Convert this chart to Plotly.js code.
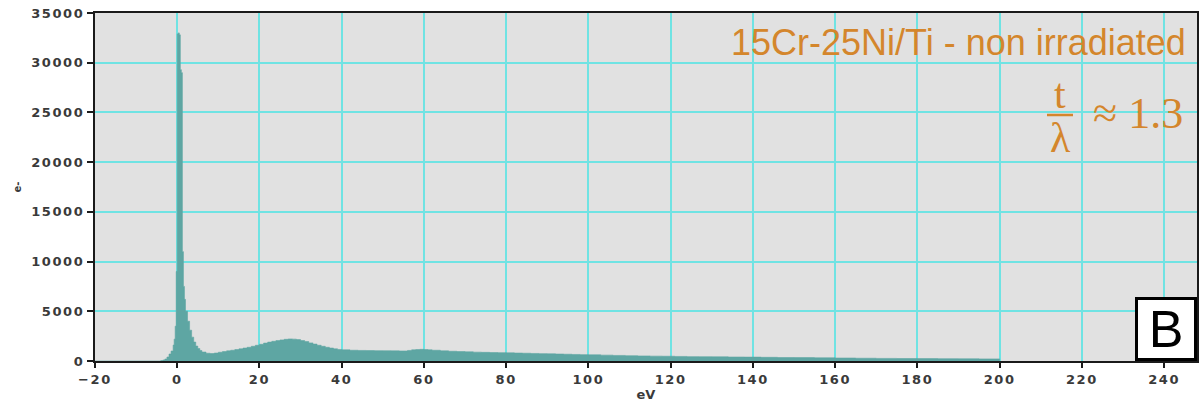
<!DOCTYPE html>
<html>
<head>
<meta charset="utf-8">
<script src="https://cdn.plot.ly/plotly-3.0.1.min.js"></script>
<style>
html,body{margin:0;padding:0;background:#fff;}
#chart{width:1200px;height:403px;}
.xtick text,.ytick text{letter-spacing:1.6px;}
</style>
</head>
<body>
<div id="chart"></div>
<script>
// Energy loss (eV) – left edge of each step
const energy = [-20, -4, -3.5, -3, -2.5, -2, -1.5, -1, -0.75, -0.5, -0.25, 0, 0.25, 0.5, 0.75, 1.0, 1.25, 1.5, 1.75, 2.0, 2.5, 3.0, 3.5, 4.0, 4.5, 5.0, 5.5, 6, 7, 8, 9, 10, 11, 12, 13, 14, 15, 16, 17, 18, 19, 20, 21, 22, 23, 24, 25, 26, 27, 28, 29, 30, 31, 32, 33, 34, 35, 36, 37, 38, 39, 40, 42, 44, 46, 48, 50, 52, 54, 56, 57, 58, 59, 60, 61, 62, 64, 66, 68, 70, 72, 74, 76, 78, 80, 82, 84, 86, 88, 90, 92, 94, 96, 98, 100, 103, 106, 109, 112, 115, 118, 121, 124, 127, 130, 134, 138, 142, 146, 150, 155, 160, 165, 170, 175, 180, 185, 190, 195, 200];
// Counts (e-)
const counts = [0, 50, 100, 200, 400, 700, 1000, 1600, 2200, 3500, 9000, 32900, 33000, 32800, 29300, 29000, 11000, 7500, 6200, 5000, 4000, 3100, 2400, 1900, 1500, 1250, 1050, 900, 780, 750, 800, 880, 950, 1020, 1080, 1150, 1220, 1300, 1380, 1480, 1580, 1680, 1800, 1900, 1980, 2050, 2120, 2180, 2220, 2200, 2150, 2050, 1950, 1820, 1700, 1580, 1480, 1380, 1300, 1220, 1160, 1120, 1080, 1060, 1050, 1040, 1030, 1020, 1010, 1060, 1120, 1150, 1170, 1150, 1120, 1080, 1020, 980, 950, 920, 890, 870, 850, 840, 820, 800, 780, 760, 740, 720, 700, 680, 660, 640, 620, 590, 560, 530, 510, 490, 480, 460, 440, 430, 420, 400, 390, 370, 350, 340, 320, 300, 280, 260, 250, 240, 230, 220, 210, 0];

const xTicks = [-20, 0, 20, 40, 60, 80, 100, 120, 140, 160, 180, 200, 220, 240];
const yTicks = [0, 5000, 10000, 15000, 20000, 25000, 30000, 35000];

const sampleLabel = "15Cr-25Ni/Ti - non irradiated";
const ratioNum = "t";
const ratioDen = "λ";
const ratioValue = "≈ 1.3";
const panelLabel = "B";

const orange = "#d4862c";
const tickFont = {family: "DejaVu Sans", size: 13, color: "#3a3a3a", weight: "bold"};

const trace = {
  x: energy, y: counts, type: "scatter", mode: "lines",
  line: {shape: "hv", color: "#5ea6a3", width: 0.6},
  fill: "tozeroy", fillcolor: "#5ea6a3", hoverinfo: "x+y"
};

const W = 1200, H = 403, ml = 95, mr = 3, mt = 13, mb = 42;
const pw = W - ml - mr, ph = H - mt - mb;
const px = v => (v - ml) / pw;
const py = v => 1 - (v - mt) / ph;

const layout = {
  width: W, height: H,
  margin: {l: ml, r: mr, t: mt, b: mb, pad: 0},
  paper_bgcolor: "#ffffff", plot_bgcolor: "#e1e1e1",
  showlegend: false,
  xaxis: {
    range: [-20, 248], tickvals: xTicks, ticktext: xTicks.map(v => v < 0 ? "−" + Math.abs(v) : String(v)),
    showgrid: true, gridcolor: "#6fe3e3", gridwidth: 2,
    zeroline: false, showline: true, linecolor: "#1a1a1a", linewidth: 2, mirror: true,
    ticks: "outside", ticklen: 5, tickwidth: 2, tickcolor: "#1a1a1a",
    tickfont: tickFont,
    title: {text: "eV", font: {family: "DejaVu Sans", size: 13, color: "#3a3a3a", weight: "bold"}, standoff: 1},
    automargin: false
  },
  yaxis: {
    range: [0, 35000], tickvals: yTicks, ticktext: yTicks.map(String),
    showgrid: true, gridcolor: "#6fe3e3", gridwidth: 2,
    zeroline: false, showline: true, linecolor: "#1a1a1a", linewidth: 2, mirror: true,
    ticks: "outside", ticklen: 6, tickwidth: 2, tickcolor: "#1a1a1a",
    tickfont: tickFont,
    title: {text: "e-", font: {family: "DejaVu Sans", size: 10, color: "#3a3a3a", weight: "bold"}, standoff: 8},
    automargin: false
  },
  shapes: [
    {type: "line", xref: "paper", yref: "paper", x0: px(1047), x1: px(1073), y0: py(115), y1: py(115),
     line: {color: orange, width: 2.5}}
  ],
  annotations: [
    {xref: "paper", yref: "paper", x: px(1188), y: py(42), xanchor: "right", yanchor: "middle",
     text: sampleLabel, showarrow: false, font: {family: "Liberation Sans", size: 36, color: orange}},
    {xref: "paper", yref: "paper", x: px(1060), y: py(94), xanchor: "center", yanchor: "middle",
     text: ratioNum, showarrow: false, font: {family: "Liberation Serif", size: 42, color: orange}},
    {xref: "paper", yref: "paper", x: px(1060), y: py(138), xanchor: "center", yanchor: "middle",
     text: ratioDen, showarrow: false, font: {family: "Liberation Serif", size: 42, color: orange}},
    {xref: "paper", yref: "paper", x: px(1185), y: py(113), xanchor: "right", yanchor: "middle",
     text: ratioValue, showarrow: false, font: {family: "Liberation Serif", size: 44, color: orange}},
    {xref: "paper", yref: "paper", x: 1, y: 0, xanchor: "right", yanchor: "bottom",
     text: panelLabel, showarrow: false, font: {family: "Liberation Sans", size: 52, color: "#000"},
     bgcolor: "#ffffff", bordercolor: "#000000", borderwidth: 3, borderpad: 0, width: 56, height: 58}
  ]
};

Plotly.newPlot("chart", [trace], layout, {displayModeBar: false, staticPlot: true});
</script>
</body>
</html>
